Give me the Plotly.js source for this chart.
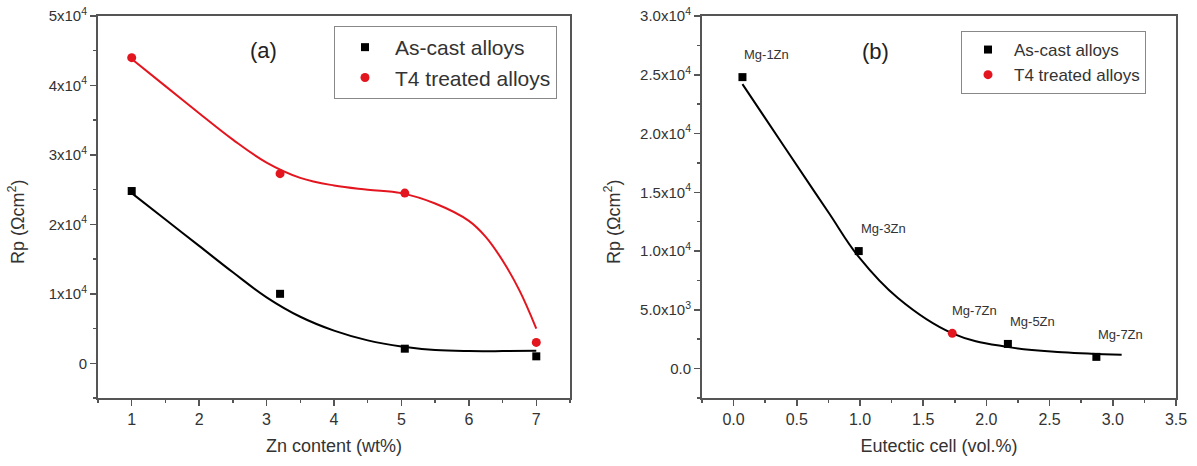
<!DOCTYPE html>
<html>
<head>
<meta charset="utf-8">
<script src="https://cdn.plot.ly/plotly-3.0.1.min.js"></script>
<style>html,body{margin:0;padding:0;background:#fff;}#chart{width:1197px;height:466px;}</style>
</head>
<body>
<div id="chart"></div>
<script>
// ---- Panel (a): Rp vs Zn content ----
const znContent = [1, 3.2, 5.05, 7];
const castRpA = [24800, 10000, 2100, 1000];
const t4RpA = [44000, 27300, 24500, 3000];
// fitted curves
const castFitX = [1, 1.5, 2, 2.5, 3, 3.5, 4, 4.5, 5, 5.5, 6, 6.5, 7];
const castFitY = [24500, 20700, 16900, 13100, 9500, 6700, 4700, 3300, 2400, 1900, 1750, 1750, 1800];
const t4FitX = [1, 1.5, 2, 2.5, 3, 3.5, 4, 4.5, 5, 5.5, 6, 6.25, 6.5, 6.75, 7];
const t4FitY = [43800, 39900, 36000, 32200, 28900, 26700, 25600, 25000, 24500, 23000, 20500, 18200, 14800, 10500, 5000];

// ---- Panel (b): Rp vs eutectic cell ----
const eutecticCast = [0.07, 0.99, 2.17, 2.87];
const castRpB = [24800, 10000, 2100, 1000];
const castLabelsB = ['Mg-1Zn', 'Mg-3Zn', 'Mg-5Zn', 'Mg-7Zn'];
const eutecticT4 = [1.73];
const t4RpB = [3000];
const t4LabelsB = ['Mg-7Zn'];
const fitBX = [0.07, 0.4, 0.75, 0.99, 1.3, 1.73, 2.16, 2.6, 3.07];
const fitBY = [24200, 18900, 13300, 9500, 6000, 3000, 1850, 1400, 1190];

// tick labels
const yTickValsA = [0, 10000, 20000, 30000, 40000, 50000];
const yTickTextA = ['0', '1x10<sup>4</sup>', '2x10<sup>4</sup>', '3x10<sup>4</sup>', '4x10<sup>4</sup>', '5x10<sup>4</sup>'];
const yTickValsB = [0, 5000, 10000, 15000, 20000, 25000, 30000];
const yTickTextB = ['0.0', '5.0x10<sup>3</sup>', '1.0x10<sup>4</sup>', '1.5x10<sup>4</sup>', '2.0x10<sup>4</sup>', '2.5x10<sup>4</sup>', '3.0x10<sup>4</sup>'];
const xTickValsB = [0, 0.5, 1, 1.5, 2, 2.5, 3, 3.5];
const xTickTextB = ['0.0', '0.5', '1.0', '1.5', '2.0', '2.5', '3.0', '3.5'];

const legendNames = ['As-cast alloys', 'T4 treated alloys'];
const panelTags = ['(a)', '(b)'];
const axisTitles = ['Zn content (wt%)', 'Eutectic cell (vol.%)', 'Rp (\u03A9cm<sup>2</sup>)'];

const RED = '#e3151e';
const AX = '#555555';
const TXT = '#333333';
const FONT = 'Liberation Sans, Arial, sans-serif';

const traces = [
  {x: castFitX, y: castFitY, mode: 'lines', line: {color: '#000', width: 2, shape: 'spline', smoothing: 1.1}, showlegend: false, xaxis: 'x', yaxis: 'y', hoverinfo: 'skip'},
  {x: t4FitX, y: t4FitY, mode: 'lines', line: {color: RED, width: 2, shape: 'spline', smoothing: 1.1}, showlegend: false, xaxis: 'x', yaxis: 'y', hoverinfo: 'skip'},
  {x: znContent, y: castRpA, mode: 'markers', name: legendNames[0], marker: {symbol: 'square', size: 8, color: '#000'}, xaxis: 'x', yaxis: 'y', legend: 'legend'},
  {x: znContent, y: t4RpA, mode: 'markers', name: legendNames[1], marker: {symbol: 'circle', size: 9, color: RED}, xaxis: 'x', yaxis: 'y', legend: 'legend'},
  {x: fitBX, y: fitBY, mode: 'lines', line: {color: '#000', width: 2, shape: 'spline', smoothing: 1.1}, showlegend: false, xaxis: 'x2', yaxis: 'y2', hoverinfo: 'skip'},
  {x: eutecticCast, y: castRpB, mode: 'markers', name: legendNames[0], marker: {symbol: 'square', size: 8, color: '#000'}, xaxis: 'x2', yaxis: 'y2', legend: 'legend2'},
  {x: eutecticT4, y: t4RpB, mode: 'markers', name: legendNames[1], marker: {symbol: 'circle', size: 9, color: RED}, xaxis: 'x2', yaxis: 'y2', legend: 'legend2'}
];

const axBase = {
  showline: true, linecolor: AX, linewidth: 2, mirror: true,
  ticks: 'outside', ticklen: 6, tickwidth: 1.5, tickcolor: AX,
  showgrid: false, zeroline: false,
  tickfont: {family: FONT, size: 16, color: TXT},
  fixedrange: true
};

const annotations = [];
castLabelsB.forEach((t, i) => annotations.push({
  xref: 'x2', yref: 'y2', x: eutecticCast[i], y: castRpB[i], text: t, showarrow: false,
  xanchor: 'left', yanchor: 'bottom', xshift: 0, yshift: 13, font: {family: FONT, size: 13, color: TXT}
}));
t4LabelsB.forEach((t, i) => annotations.push({
  xref: 'x2', yref: 'y2', x: eutecticT4[i], y: t4RpB[i], text: t, showarrow: false,
  xanchor: 'left', yanchor: 'bottom', xshift: -2, yshift: 13, font: {family: FONT, size: 13, color: TXT}
}));
annotations.push({xref: 'x', yref: 'paper', x: 2.95, y: (398-50)/382, text: panelTags[0], showarrow: false, xanchor: 'center', yanchor: 'middle', font: {family: FONT, size: 22, color: '#222'}});
annotations.push({xref: 'x2', yref: 'paper', x: 1.12, y: (398-52)/382, text: panelTags[1], showarrow: false, xanchor: 'center', yanchor: 'middle', font: {family: FONT, size: 22, color: '#222'}});
annotations.push({xref: 'paper', yref: 'paper', x: 17/1197, y: (398-222)/382, text: axisTitles[2], textangle: -90, showarrow: false, xanchor: 'center', yanchor: 'middle', font: {family: FONT, size: 18, color: TXT}});
annotations.push({xref: 'paper', yref: 'paper', x: 613/1197, y: (398-222)/382, text: axisTitles[2], textangle: -90, showarrow: false, xanchor: 'center', yanchor: 'middle', font: {family: FONT, size: 18, color: TXT}});

const layout = {
  width: 1197, height: 466,
  margin: {l: 0, r: 0, t: 16, b: 68},
  paper_bgcolor: '#fff', plot_bgcolor: '#fff',
  font: {family: FONT, color: TXT},
  xaxis: Object.assign({}, axBase, {
    domain: [98/1197, 570/1197], range: [0.5, 7.5], tickvals: [1, 2, 3, 4, 5, 6, 7],
    minor: {ticks: 'outside', ticklen: 3, tickwidth: 1.5, tickcolor: AX, dtick: 0.5, tick0: 0.5},
    title: {text: axisTitles[0], font: {family: FONT, size: 18, color: TXT}, standoff: 12}
  }),
  yaxis: Object.assign({}, axBase, {
    domain: [0, 1], range: [-5000, 50000], tickvals: yTickValsA, ticktext: yTickTextA,
    minor: {ticks: 'outside', ticklen: 3, tickwidth: 1.5, tickcolor: AX, dtick: 5000, tick0: 0},
    tickfont: {family: FONT, size: 15, color: TXT}
  }),
  xaxis2: Object.assign({}, axBase, {
    domain: [702/1197, 1176/1197], range: [-0.25, 3.5], tickvals: xTickValsB, ticktext: xTickTextB, anchor: 'y2',
    minor: {ticks: 'outside', ticklen: 3, tickwidth: 1.5, tickcolor: AX, dtick: 0.25, tick0: 0},
    title: {text: axisTitles[1], font: {family: FONT, size: 18, color: TXT}, standoff: 12}
  }),
  yaxis2: Object.assign({}, axBase, {
    domain: [0, 1], range: [-2500, 30000], tickvals: yTickValsB, ticktext: yTickTextB, anchor: 'x2',
    minor: {ticks: 'outside', ticklen: 3, tickwidth: 1.5, tickcolor: AX, dtick: 2500, tick0: 0},
    tickfont: {family: FONT, size: 15, color: TXT}
  }),
  legend: {
    x: 334/1197, y: 1 - (26-16)/382, xanchor: 'left', yanchor: 'top',
    bordercolor: '#888', borderwidth: 1, bgcolor: '#fff',
    font: {family: FONT, size: 21, color: TXT}, itemwidth: 50, tracegroupgap: 0
  },
  legend2: {
    x: 961/1197, y: 1 - (31-16)/382, xanchor: 'left', yanchor: 'top',
    bordercolor: '#888', borderwidth: 1, bgcolor: '#fff',
    font: {family: FONT, size: 17, color: TXT}, itemwidth: 42, tracegroupgap: 0
  },
  annotations: annotations,
  showlegend: true
};

Plotly.newPlot('chart', traces, layout, {displayModeBar: false, staticPlot: true});
</script>
</body>
</html>
